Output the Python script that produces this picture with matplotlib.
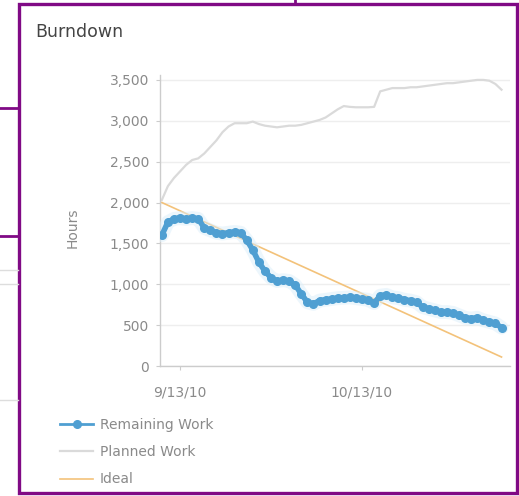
import numpy as np
import matplotlib
matplotlib.use("Agg")
import matplotlib.pyplot as plt
import matplotlib.dates as mdates
from matplotlib.lines import Line2D
from matplotlib.patches import Rectangle

# one value per day, starting 9/10/10
dates = np.arange(np.datetime64("2010-09-10"), np.datetime64("2010-11-06"))

remaining = [1600, 1760, 1800, 1810, 1800, 1810, 1800, 1690, 1660, 1630,
             1620, 1630, 1640, 1630, 1540, 1420, 1270, 1160, 1080, 1040,
             1050, 1040, 990, 880, 780, 760, 800, 810, 820, 830,
             835, 840, 830, 820, 810, 770, 860, 870, 840, 830,
             810, 800, 780, 720, 700, 680, 660, 660, 650, 620,
             590, 580, 590, 560, 540, 520, 470]

planned = [2030, 2200, 2300, 2380, 2460, 2520, 2540, 2600, 2680, 2760,
           2860, 2930, 2970, 2970, 2970, 2990, 2960, 2940, 2930, 2920,
           2930, 2940, 2940, 2950, 2970, 2990, 3010, 3040, 3090, 3140,
           3180, 3170, 3165, 3165, 3165, 3170, 3360, 3380, 3400, 3400,
           3400, 3410, 3410, 3420, 3430, 3440, 3450, 3460, 3460, 3470,
           3480, 3490, 3500, 3500, 3490, 3450, 3380]

ideal_dates = [np.datetime64("2010-09-10"), np.datetime64("2010-11-05")]
ideal = [2000, 110]

tick_dates = [np.datetime64("2010-09-13"), np.datetime64("2010-10-13")]
tick_labels = ["9/13/10", "10/13/10"]
y_ticks = [0, 500, 1000, 1500, 2000, 2500, 3000, 3500]
y_labels = ["0", "500", "1,000", "1,500", "2,000", "2,500", "3,000", "3,500"]

W, H = 519, 496
fig = plt.figure(figsize=(W / 100, H / 100), dpi=100)
fig.patch.set_facecolor("white")

# axes box in pixel terms
left, right, top, bottom = 160, 510, 75, 366
ax = fig.add_axes([left / W, 1 - bottom / H, (right - left) / W, (bottom - top) / H])

blue = "#4f9fd2"
grey_line = "#dadada"
orange = "#f3c27a"

ax.plot(ideal_dates, ideal, color=orange, lw=1.2, zorder=2)
ax.plot(dates, planned, color=grey_line, lw=1.6, zorder=2)
# soft halo behind the remaining-work chain
ax.plot(dates, remaining, color="#dbeefa", lw=10, alpha=0.5, solid_capstyle="round", zorder=3)
ax.plot(dates, remaining, color=blue, lw=4, marker="o", ms=5.5, mec=blue, mfc=blue, zorder=4)

x0 = mdates.date2num(np.datetime64("2010-09-10")) - 0.3
x1 = mdates.date2num(np.datetime64("2010-11-05")) + 1.4
ax.set_xlim(x0, x1)
ax.set_ylim(0, 3560)

ax.set_yticks(y_ticks)
ax.set_yticklabels(y_labels)
ax.set_xticks(mdates.date2num(tick_dates))
ax.set_xticklabels(tick_labels)

for s in ["top", "right"]:
    ax.spines[s].set_visible(False)
for s in ["left", "bottom"]:
    ax.spines[s].set_color("#cccccc")
    ax.spines[s].set_linewidth(1)

ax.tick_params(axis="y", length=3, color="#cccccc", pad=5, labelsize=10, labelcolor="#8a8a8a")
ax.tick_params(axis="x", length=3, color="#cccccc", pad=11, labelsize=10, labelcolor="#8a8a8a")
ax.grid(axis="y", color="#eeeeee", lw=1)
ax.set_axisbelow(True)

fig.text(35 / W, 1 - 32 / H, "Burndown", fontsize=12.5, color="#444444", va="center", ha="left")
fig.text(73 / W, 1 - 228 / H, "Hours", fontsize=10, color="#8a8a8a", rotation=90, va="center", ha="center")

handles = [
    Line2D([], [], color=blue, lw=2, marker="o", ms=5.5),
    Line2D([], [], color=grey_line, lw=1.6),
    Line2D([], [], color=orange, lw=1.2),
]
fig.legend(handles, ["Remaining Work", "Planned Work", "Ideal"],
           loc="upper left", bbox_to_anchor=(60 / W, 1 - 418 / H),
           frameon=False, fontsize=10, labelcolor="#8a8a8a",
           handlelength=2.4, handletextpad=0.45, labelspacing=0.95,
           borderpad=0, borderaxespad=0)

# purple frame of the screenshot and the stray edges at the left
purple = "#800a85"
fig.add_artist(Rectangle((19 / W, 1 - 493 / H), (517 - 19) / W, (493 - 4) / H,
                         transform=fig.transFigure, fill=False, ec=purple, lw=2.4))
for yy in [108, 236]:
    fig.add_artist(Line2D([0, 19 / W], [1 - yy / H, 1 - yy / H], transform=fig.transFigure, color=purple, lw=2))
for yy in [270, 284, 400]:
    fig.add_artist(Line2D([0, 18 / W], [1 - yy / H, 1 - yy / H], transform=fig.transFigure, color="#dddddd", lw=1))
fig.add_artist(Line2D([295 / W, 295 / W], [1, 1 - 4 / H], transform=fig.transFigure, color=purple, lw=2))

fig.savefig("out.png", dpi=100)
